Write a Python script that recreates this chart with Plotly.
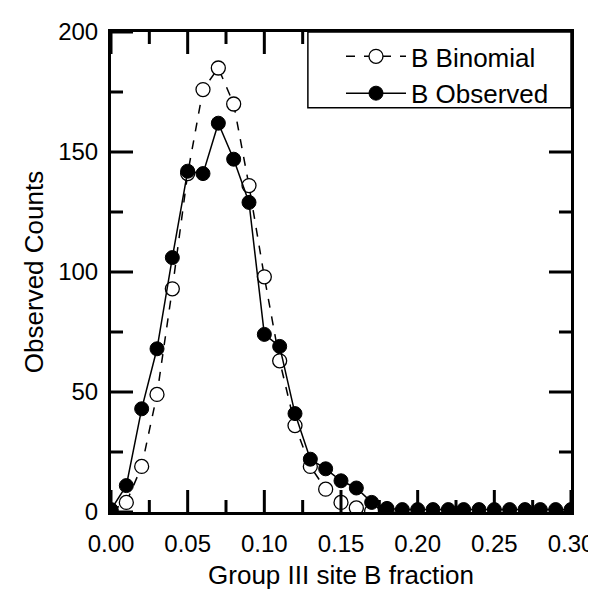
import plotly.graph_objects as go

x_vals = [round(i * 0.01, 2) for i in range(31)]
binomial_x = [round(i * 0.01, 2) for i in range(19)]
binomial = [0.5, 4, 19, 49, 93, 141, 176, 185, 170, 136, 98, 63, 36, 19, 9.5, 4, 1.7, 0.3, 0]
observed = [1, 11, 43, 68, 106, 142, 141, 162, 147, 129, 74, 69, 41, 22, 18, 13, 10, 4,
            1.5, 1, 1, 1, 1, 1, 1, 1, 1, 1, 1, 1, 1]
x_ticks = [0, 0.05, 0.10, 0.15, 0.20, 0.25, 0.30]
x_ticktext = ["0.00", "0.05", "0.10", "0.15", "0.20", "0.25", "0.30"]
x_minor = [0.025, 0.075, 0.125, 0.175, 0.225, 0.275]
y_ticks = [0, 50, 100, 150, 200]
y_minor = [25, 75, 125, 175]

FONT = "Liberation Sans, Arial, sans-serif"
PLOT_W, PLOT_H = 460, 480
MAJOR_LEN, MINOR_LEN = 22, 12

fig = go.Figure()
fig.add_trace(go.Scatter(
    x=binomial_x, y=binomial, name="B Binomial", mode="lines+markers",
    line=dict(color="black", width=1.5, dash="dash"),
    marker=dict(symbol="circle", size=14, color="white", line=dict(color="black", width=1.3)),
))
fig.add_trace(go.Scatter(
    x=x_vals, y=observed, name="B Observed", mode="lines+markers",
    line=dict(color="black", width=1.5),
    marker=dict(symbol="circle", size=14, color="black", line=dict(color="black", width=1)),
))

base = dict(showline=True, linecolor="black", linewidth=3, mirror=True,
            ticks="outside", tickcolor="rgba(0,0,0,0)", tickwidth=1,
            showgrid=False, zeroline=False, automargin=False,
            tickfont=dict(family=FONT, size=24, color="black"))
xa = dict(base)
xa.update(range=[0, 0.30], tickmode="array", tickvals=x_ticks, ticktext=x_ticktext, ticklen=8,
          title=dict(text="Group III site B fraction", font=dict(family=FONT, size=26, color="black"), standoff=11))
ya = dict(base)
ya.update(range=[0, 200], tickmode="array", tickvals=y_ticks, ticklen=5,
          title=dict(text="Observed Counts", font=dict(family=FONT, size=26, color="black"), standoff=8))
fig.update_xaxes(xa)
fig.update_yaxes(ya)

# inside tick marks on all four sides, placed through the axes' own scales
tick_line = dict(color="black", width=3)
for vals, length in ((x_ticks, MAJOR_LEN), (x_minor, MINOR_LEN)):
    frac = length / PLOT_H
    for v in vals:
        fig.add_shape(type="line", xref="x", yref="y domain", x0=v, x1=v, y0=0, y1=frac,
                      line=tick_line, layer="above")
        fig.add_shape(type="line", xref="x", yref="y domain", x0=v, x1=v, y0=1 - frac, y1=1,
                      line=tick_line, layer="above")
for vals, length in ((y_ticks, MAJOR_LEN), (y_minor, MINOR_LEN)):
    frac = length / PLOT_W
    for v in vals:
        fig.add_shape(type="line", xref="x domain", yref="y", x0=0, x1=frac, y0=v, y1=v,
                      line=tick_line, layer="above")
        fig.add_shape(type="line", xref="x domain", yref="y", x0=1 - frac, x1=1, y0=v, y1=v,
                      line=tick_line, layer="above")

# legend frame
fig.add_shape(type="rect", xref="paper", yref="paper", x0=0.428, x1=1.0, y0=0.842, y1=1.0,
              line=dict(color="black", width=1.5), fillcolor="white", layer="above")

fig.update_layout(
    width=596, height=601,
    margin=dict(l=103, r=33, t=24, b=97),
    paper_bgcolor="white", plot_bgcolor="white",
    font=dict(family=FONT, size=26, color="black"),
    showlegend=True,
    legend=dict(
        x=0.5, y=0.998, xanchor="left", yanchor="top",
        bgcolor="rgba(0,0,0,0)", borderwidth=0,
        font=dict(family=FONT, size=26, color="black"),
        tracegroupgap=0, itemwidth=60,
    ),
)

fig.write_html("out.html")
